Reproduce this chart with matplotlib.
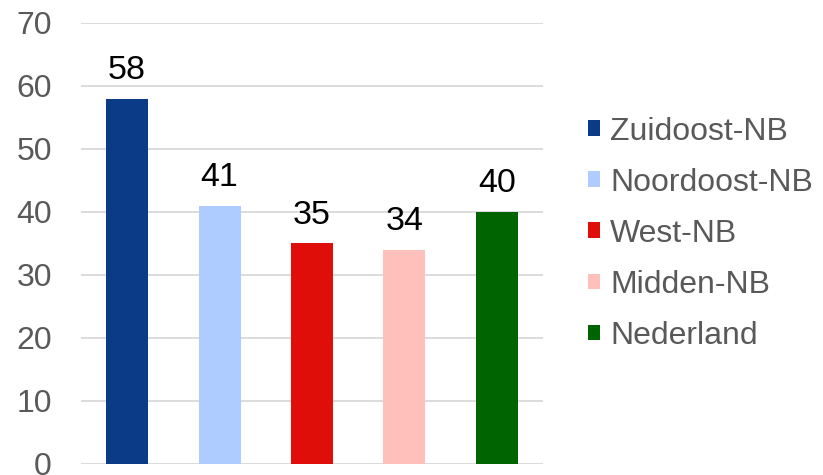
import matplotlib
matplotlib.use("Agg")
import matplotlib.pyplot as plt
from matplotlib.patches import Patch

regions = ["Zuidoost-NB", "Noordoost-NB", "West-NB", "Midden-NB", "Nederland"]
values = [58, 41, 35, 34, 40]
colors = ["#0b3a87", "#aeccff", "#e00e08", "#ffc0bb", "#006400"]
yticks = [0, 10, 20, 30, 40, 50, 60, 70]

plt.rcParams['font.family'] = ['Liberation Sans', 'DejaVu Sans']
grey = "#595959"

fig = plt.figure(figsize=(8.23, 4.75), dpi=100)
ax = fig.add_axes([0.0984, 0.0232, 0.5614, 0.9284])

x = range(len(regions))
bars = ax.bar(x, values, width=0.455, color=colors, zorder=2)

# value labels above the bars
for xi, v in zip(x, values):
    ax.annotate(str(v), (xi, v), xytext=(0, 9), textcoords="offset points",
                ha="center", va="bottom", fontsize=24.5, color="black")

ax.set_xlim(-0.5, len(regions) - 0.5)
ax.set_ylim(0, 70)
ax.set_yticks(yticks)
ax.set_xticks([])
ax.grid(axis="y", color="#d9d9d9", linewidth=1.3, zorder=0)
for s in ax.spines.values():
    s.set_visible(False)
ax.tick_params(axis="y", length=0, labelsize=23, labelcolor=grey, pad=21)

handles = [Patch(facecolor=c, label=r) for c, r in zip(colors, regions)]
fig.legend(handles=handles, loc="center left", bbox_to_anchor=(0.68, 0.508),
           frameon=False, fontsize=23, labelcolor=grey, handlelength=0.375,
           handleheight=0.375, handletextpad=0.31, labelspacing=0.66)

fig.savefig("out.png", dpi=100)
